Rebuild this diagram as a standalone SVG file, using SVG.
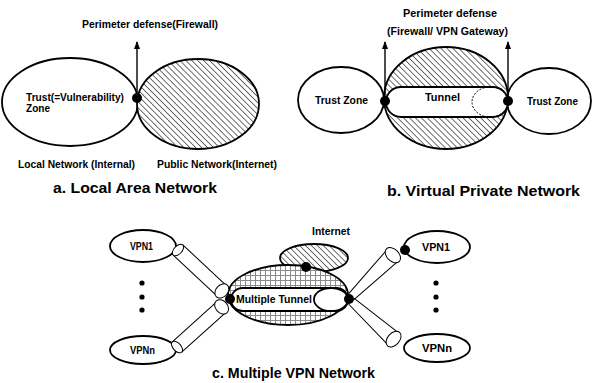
<svg xmlns="http://www.w3.org/2000/svg" width="592" height="383" viewBox="0 0 592 383">
<defs>
<pattern id="hatch" width="4.2" height="4.2" patternUnits="userSpaceOnUse" patternTransform="rotate(-45)">
<rect width="4.2" height="4.2" fill="#fff"/>
<line x1="0" y1="0" x2="0" y2="4.2" stroke="#111" stroke-width="1.2"/>
</pattern>
<pattern id="grid" width="5" height="5" patternUnits="userSpaceOnUse">
<rect width="5" height="5" fill="#fff"/>
<path d="M0,0.5 H5 M0.5,0 V5" stroke="#8a8a8a" stroke-width="1"/>
</pattern>
<marker id="arr" markerWidth="8" markerHeight="6" refX="7" refY="3" orient="auto" markerUnits="userSpaceOnUse" viewBox="0 0 8 6">
<path d="M0,0 L8,3 L0,6 Z" fill="#000"/>
</marker>
</defs>
<style>
.sh{fill:#fff;stroke:#000;stroke-width:1.8}
.ht{fill:url(#hatch);stroke:#000;stroke-width:1.8}
.gr{fill:url(#grid);stroke:#000;stroke-width:1.8}
.pl{fill:none;stroke:#000;stroke-width:1}
.cap{fill:#fff;stroke:#000;stroke-width:1}
.dot{fill:#000}
.t{font-family:"Liberation Sans",Arial,sans-serif;font-weight:bold;font-size:10px;fill:#000}
.ti{font-family:"Liberation Sans",Arial,sans-serif;font-weight:bold;font-size:14px;fill:#000}
.ar{stroke:#000;stroke-width:1.4;fill:none}
</style>
<rect width="592" height="383" fill="#fff"/>

<!-- Section a -->
<g id="a-local">
<ellipse class="sh" cx="70" cy="102" rx="68" ry="44"/>
<text class="t" x="26" y="100.5" textLength="98" lengthAdjust="spacingAndGlyphs">Trust(=Vulnerability)</text>
<text class="t" x="26" y="111.5" textLength="24" lengthAdjust="spacingAndGlyphs">Zone</text>
</g>
<g id="a-public">
<ellipse class="ht" cx="198" cy="104" rx="61" ry="45"/>
</g>
<g id="a-connectors">
<line class="ar" x1="137" y1="98" x2="137" y2="42" marker-end="url(#arr)"/>
</g>
<g id="a-firewall">
<circle class="dot" cx="137" cy="98" r="5"/>
<text class="t" x="82" y="28" textLength="136" lengthAdjust="spacingAndGlyphs">Perimeter defense(Firewall)</text>
</g>
<text class="t" x="18" y="167.5" textLength="117" lengthAdjust="spacingAndGlyphs">Local Network (Internal)</text>
<text class="t" x="157" y="167.5" textLength="120" lengthAdjust="spacingAndGlyphs">Public Network(Internet)</text>
<text class="ti" x="53" y="193" textLength="164" lengthAdjust="spacingAndGlyphs">a. Local Area Network</text>

<!-- Section b -->
<g id="b-trust-left">
<ellipse class="sh" cx="341" cy="100" rx="43" ry="33"/>
<text class="t" x="315" y="103.5" textLength="53" lengthAdjust="spacingAndGlyphs">Trust Zone</text>
</g>
<g id="b-trust-right">
<ellipse class="sh" cx="549" cy="101" rx="42" ry="33"/>
<text class="t" x="527" y="105" textLength="51" lengthAdjust="spacingAndGlyphs">Trust Zone</text>
</g>
<g id="b-public">
<ellipse class="ht" cx="446" cy="98" rx="62" ry="51"/>
</g>
<g id="b-tunnel">
<rect class="sh" x="386" y="87" width="122" height="30" rx="15" ry="15"/>
<ellipse cx="490" cy="102" rx="18" ry="15" fill="none" stroke="#000" stroke-width="1" stroke-dasharray="2,1.5"/>
<text class="t" x="425" y="100.5" textLength="35" lengthAdjust="spacingAndGlyphs">Tunnel</text>
</g>
<g id="b-connectors">
<line class="ar" x1="385" y1="101" x2="385" y2="42" marker-end="url(#arr)"/>
<line class="ar" x1="508" y1="101" x2="508" y2="42" marker-end="url(#arr)"/>
</g>
<g id="b-gateways">
<circle class="dot" cx="385" cy="101" r="5"/>
<circle class="dot" cx="508" cy="101" r="5"/>
<text class="t" x="403" y="16.5" textLength="94" lengthAdjust="spacingAndGlyphs">Perimeter defense</text>
<text class="t" x="387" y="34.5" textLength="121" lengthAdjust="spacingAndGlyphs">(Firewall/ VPN Gateway)</text>
</g>
<text class="ti" x="387" y="196" textLength="193" lengthAdjust="spacingAndGlyphs">b. Virtual Private Network</text>

<!-- Section c -->
<g id="c-internet">
<ellipse class="ht" cx="314" cy="258" rx="34" ry="14"/>
<text class="t" x="312" y="234.5" textLength="38" lengthAdjust="spacingAndGlyphs">Internet</text>
</g>
<g id="c-core">
<ellipse class="gr" cx="288" cy="295" rx="60" ry="30"/>
<rect class="sh" x="231" y="288" width="117" height="23" rx="11.5" ry="11.5"/>
<ellipse class="sh" cx="331" cy="299.5" rx="17" ry="11.5"/>
<text class="t" x="236" y="302.5" textLength="76" lengthAdjust="spacingAndGlyphs">Multiple Tunnel</text>
</g>
<g id="c-vpn1-left">
<ellipse class="sh" cx="143" cy="246" rx="33" ry="16"/>
<text class="t" x="130" y="249.5" textLength="23" lengthAdjust="spacingAndGlyphs">VPN1</text>
</g>
<g id="c-vpnn-left">
<ellipse class="sh" cx="143" cy="350" rx="33" ry="14"/>
<text class="t" x="130" y="354" textLength="25" lengthAdjust="spacingAndGlyphs">VPNn</text>
</g>
<g id="c-vpn1-right">
<ellipse class="sh" cx="437" cy="247" rx="33" ry="16"/>
<text class="t" x="422" y="250.5" textLength="28" lengthAdjust="spacingAndGlyphs">VPN1</text>
</g>
<g id="c-vpnn-right">
<ellipse class="sh" cx="437" cy="348" rx="33" ry="14"/>
<text class="t" x="422" y="352" textLength="30" lengthAdjust="spacingAndGlyphs">VPNn</text>
</g>
<g id="c-connectors">
<g transform="translate(178,250) rotate(43)">
<path class="pl" d="M0,-7 L60,-7 M0,7 L60,7"/>
<ellipse class="cap" cx="0" cy="0" rx="4" ry="7"/>
<ellipse class="cap" cx="60" cy="0" rx="6" ry="8"/>
</g>
<g transform="translate(177,347) rotate(-42)">
<path class="pl" d="M0,-7 L60,-7 M0,7 L60,7"/>
<ellipse class="cap" cx="0" cy="0" rx="4" ry="7"/>
<ellipse class="cap" cx="60" cy="0" rx="6" ry="8"/>
</g>
<g transform="translate(349,299) rotate(-45)">
<path class="pl" d="M3,-4 L62,-8 M3,4 L62,8"/>
<ellipse class="cap" cx="62" cy="0" rx="6" ry="9"/>
</g>
<g transform="translate(349,299) rotate(42)">
<path class="pl" d="M3,-4 L60,-8 M3,4 L60,8"/>
<ellipse class="cap" cx="60" cy="0" rx="6" ry="9"/>
</g>
</g>
<g id="c-nodes-dots">
<circle class="dot" cx="230" cy="299" r="5"/>
<circle class="dot" cx="349" cy="299" r="5"/>
<circle class="dot" cx="306" cy="267" r="5"/>
<circle class="dot" cx="405" cy="250" r="5"/>
<circle class="dot" cx="142" cy="283" r="2.6"/>
<circle class="dot" cx="142" cy="297" r="2.6"/>
<circle class="dot" cx="142" cy="310" r="2.6"/>
<circle class="dot" cx="436" cy="283" r="2.6"/>
<circle class="dot" cx="436" cy="297" r="2.6"/>
<circle class="dot" cx="436" cy="310" r="2.6"/>
</g>
<text class="ti" x="212" y="378" textLength="163" lengthAdjust="spacingAndGlyphs">c. Multiple VPN Network</text>
</svg>
